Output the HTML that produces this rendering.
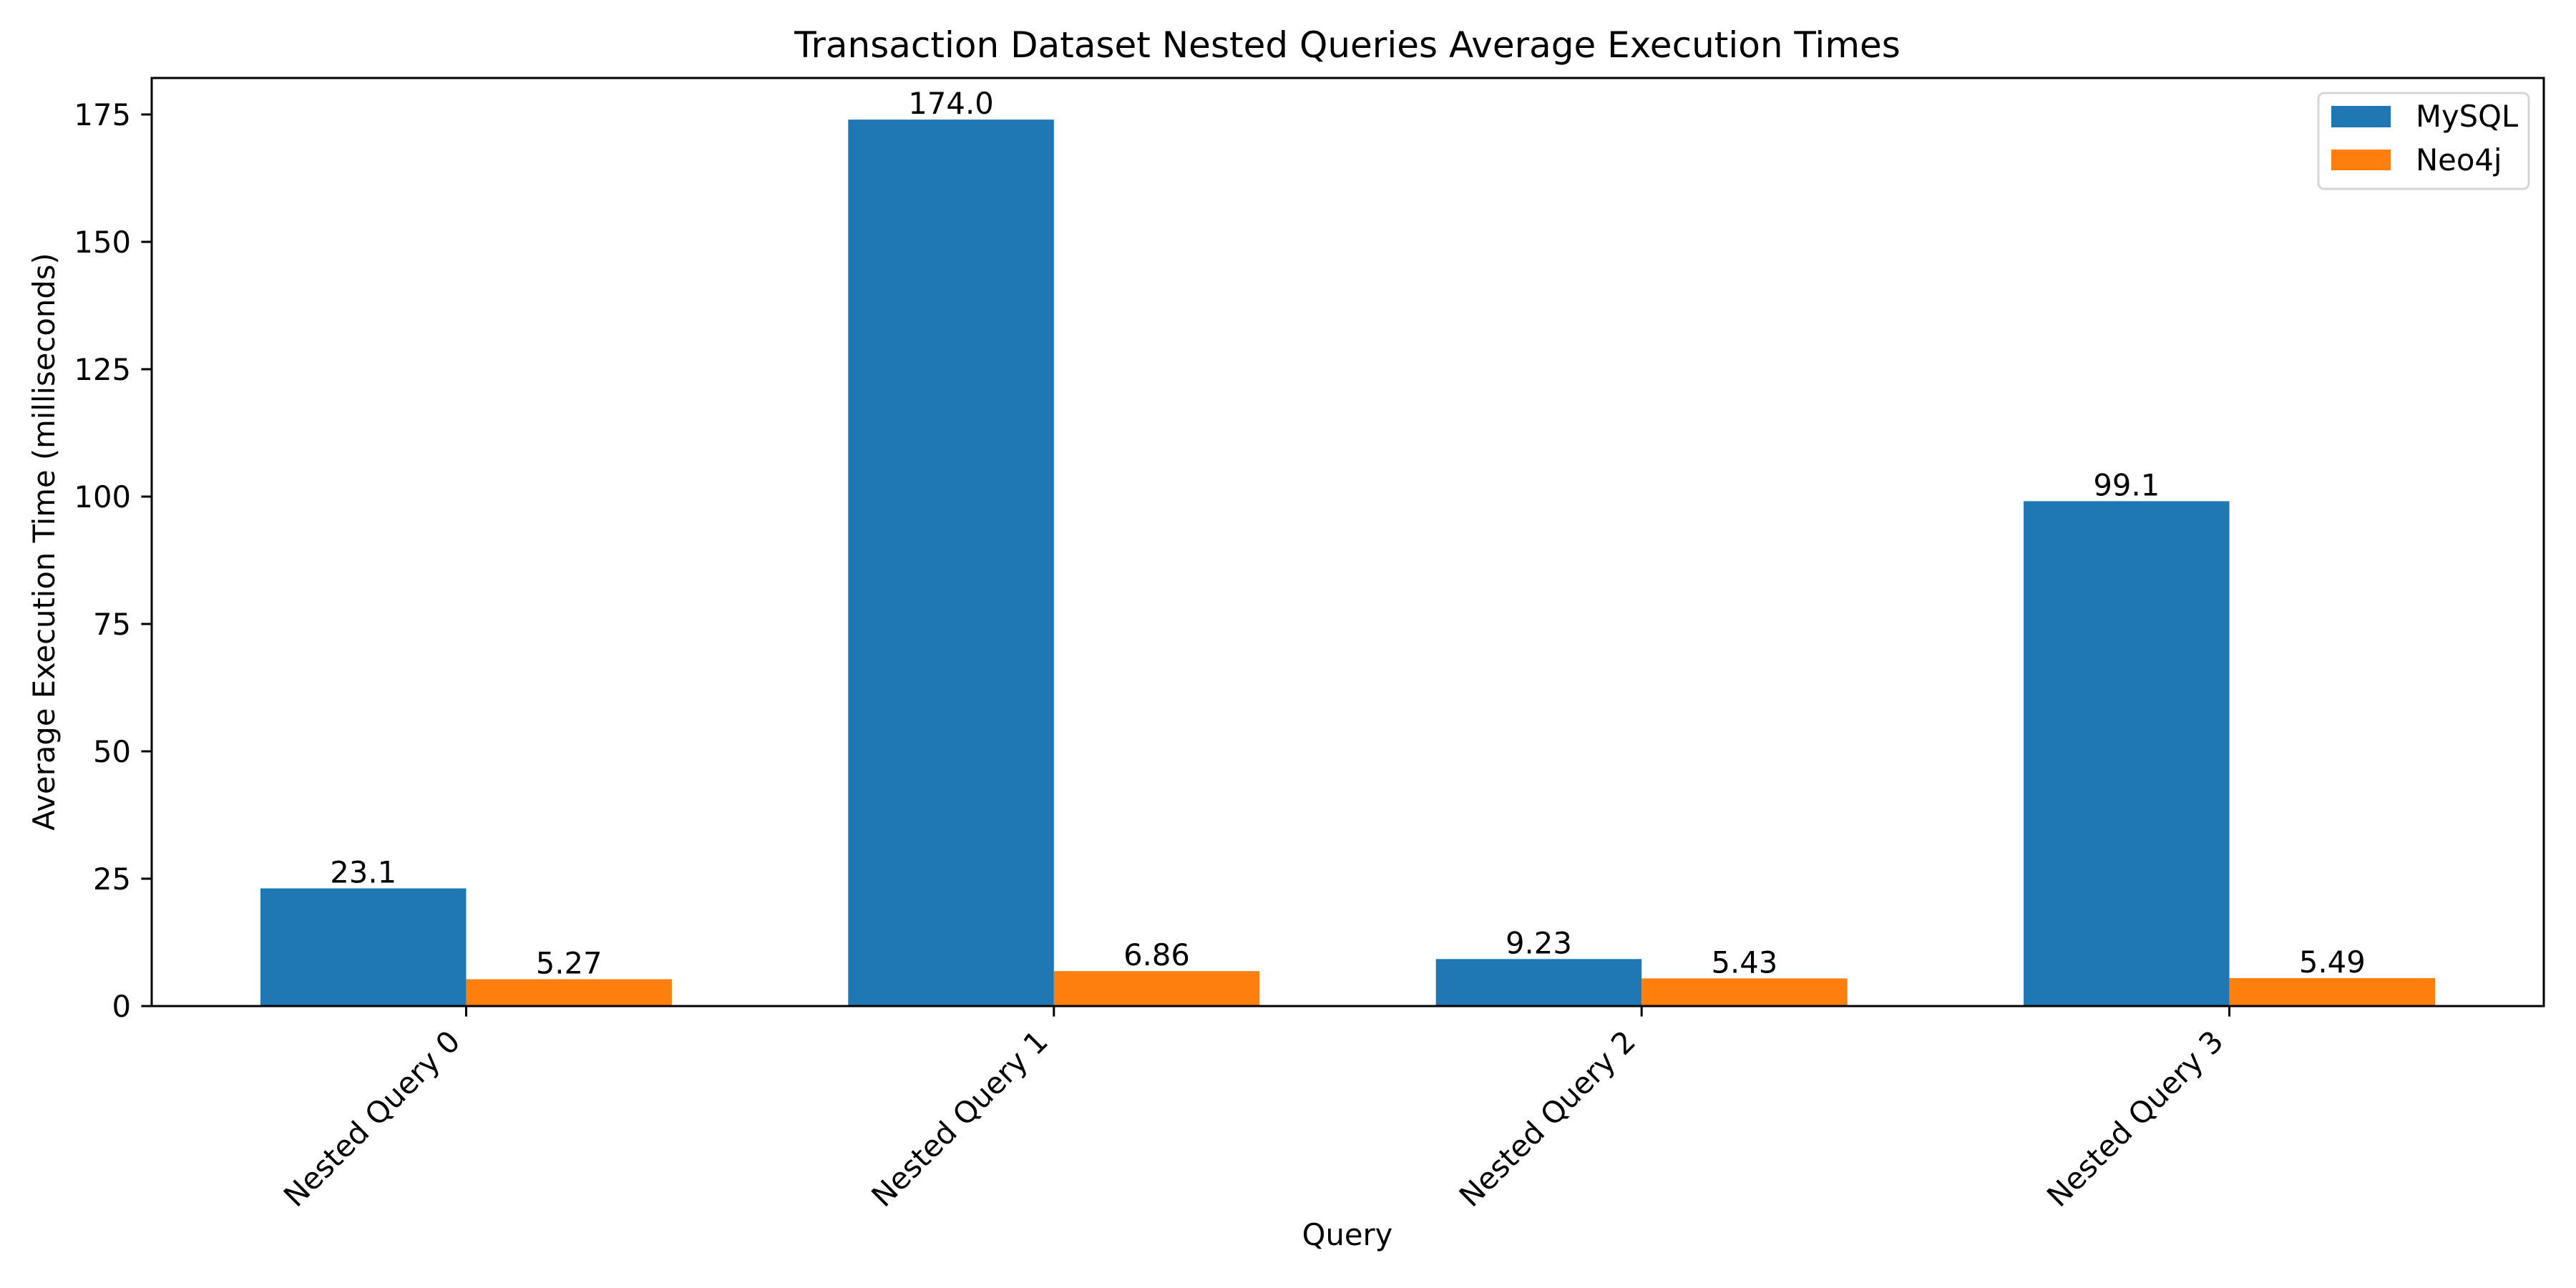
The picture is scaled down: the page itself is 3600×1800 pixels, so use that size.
<!DOCTYPE html>
<html><head><meta charset="utf-8"><style>
html,body{margin:0;padding:0;background:#fff;}
svg{display:block;font-family:"DejaVu Sans","Liberation Sans",sans-serif;}
</style></head><body>
<svg id="chart" width="3600" height="1800" viewBox="0 0 3600 1800" xmlns="http://www.w3.org/2000/svg">
<rect width="3600" height="1800" fill="#fff"/>
<text x="1883" y="80" font-size="50" text-anchor="middle">Transaction Dataset Nested Queries Average Execution Times</text>
<text x="1883" y="1740" font-size="41.7" text-anchor="middle">Query</text>
<text transform="translate(76,757) rotate(-90)" font-size="41.7" text-anchor="middle">Average Execution Time (milliseconds)</text>
<g id="marks"></g>
<g id="axes"></g>
<g>
<rect x="3240" y="130" width="294" height="134" rx="8" fill="#fff" stroke="#d6d6d6" stroke-width="3"/>
<rect x="3258" y="148" width="83" height="30" fill="#1f77b4"/>
<text x="3376" y="177" font-size="41.7">MySQL</text>
<rect x="3258" y="209" width="83" height="29" fill="#ff7f0e"/>
<text x="3376" y="238" font-size="41.7">Neo4j</text>
</g>
</svg>
<script>
const categories = ["Nested Query 0","Nested Query 1","Nested Query 2","Nested Query 3"];
const mysqlValues = [23.1, 174.0, 9.23, 99.1];
const neo4jValues = [5.27, 6.86, 5.43, 5.49];
const mysqlLabels = ["23.1","174.0","9.23","99.1"];
const neo4jLabels = ["5.27","6.86","5.43","5.49"];
const yTicks = [0,25,50,75,100,125,150,175];

const NS = "http://www.w3.org/2000/svg";
const L = 212, R = 3555, T = 109, B = 1406;
const xMin = -0.535, xMax = 3.535;
const yMax = (B - T) / 7.12;
const xs = v => L + (v - xMin) / (xMax - xMin) * (R - L);
const ys = v => B - v / yMax * (B - T);
const barW = 0.35;
const marks = document.getElementById('marks');
const axes = document.getElementById('axes');
function mk(tag, attrs, parent){const e=document.createElementNS(NS,tag);for(const k in attrs)e.setAttribute(k,attrs[k]);parent.appendChild(e);return e;}

const series = [
  {vals: mysqlValues, labels: mysqlLabels, color: "#1f77b4", off: -barW/2, key: "mysql"},
  {vals: neo4jValues, labels: neo4jLabels, color: "#ff7f0e", off: barW/2, key: "neo4j"}
];
series.forEach(s => {
  s.vals.forEach((v, i) => {
    const x0 = xs(i + s.off - barW/2), x1 = xs(i + s.off + barW/2);
    const r = mk('rect', {x: x0, y: ys(v), width: x1 - x0, height: B - ys(v), fill: s.color}, marks);
    
    
    const t = mk('text', {x: (x0 + x1) / 2, y: ys(v) - 8, 'font-size': 41.7, 'text-anchor': 'middle'}, marks);
    t.textContent = s.labels[i];
    
    
  });
});

const frame = mk('rect', {x: L, y: T, width: R - L, height: B - T, fill: 'none', stroke: '#000', 'stroke-width': 3}, axes);



yTicks.forEach(v => {
  const y = ys(v);
  const tk = mk('line', {x1: L - 14.6, x2: L, y1: y, y2: y, stroke: '#000', 'stroke-width': 3}, axes);
  
  
  const t = mk('text', {x: L - 29, y: y + 15, 'font-size': 41.7, 'text-anchor': 'end'}, axes);
  t.textContent = String(v);
  
  
});

categories.forEach((c, i) => {
  const x = xs(i);
  const tk = mk('line', {x1: x, x2: x, y1: B, y2: B + 14.6, stroke: '#000', 'stroke-width': 3}, axes);
  
  
  const t = mk('text', {transform: 'translate(' + (x - 6) + ',' + (B + 52) + ') rotate(-45)', 'font-size': 41.7, 'text-anchor': 'end'}, axes);
  t.textContent = c;
  
  
});
</script>
</body></html>
